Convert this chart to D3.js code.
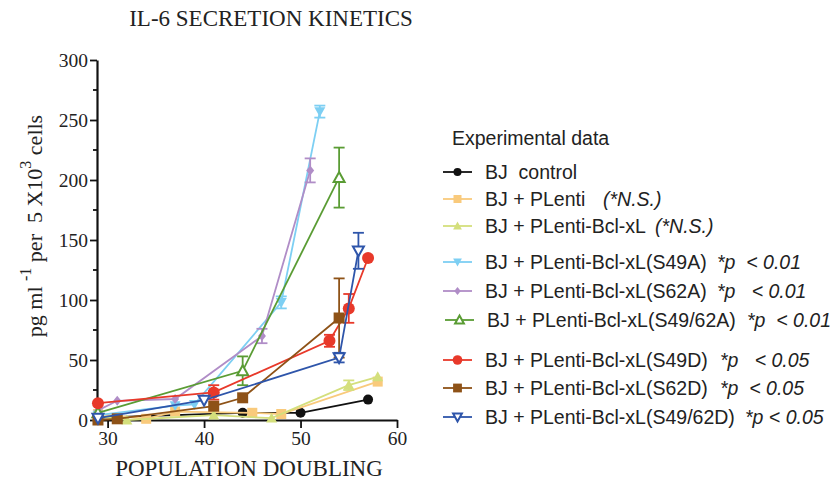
<!DOCTYPE html>
<html><head><meta charset="utf-8">
<script src="https://cdn.jsdelivr.net/npm/d3@7"></script>
<style>
html,body{margin:0;padding:0;background:#fff;}
svg{display:block;}
</style></head>
<body>
<svg id="chart" width="830" height="481"></svg>
<script>
// ---------------- data ----------------
const chartTitle = "IL-6 SECRETION KINETICS";
const xTitle = "POPULATION DOUBLING";
const xTicks = [30, 40, 50, 60];
const yTicks = [0, 50, 100, 150, 200, 250, 300];
const yMinorTicks = [25, 75, 125, 175, 225, 275];

const seriesNames = [
  "BJ  control",
  "BJ + PLenti",
  "BJ + PLenti-Bcl-xL",
  "BJ + PLenti-Bcl-xL(S49A)",
  "BJ + PLenti-Bcl-xL(S62A)",
  "BJ + PLenti-Bcl-xL(S49/62A)",
  "BJ + PLenti-Bcl-xL(S49D)",
  "BJ + PLenti-Bcl-xL(S62D)",
  "BJ + PLenti-Bcl-xL(S49/62D)"
];
const seriesNotes = ["", "(*N.S.)", "(*N.S.)", "*p  < 0.01", "*p   < 0.01", "*p  < 0.01", "*p   < 0.05", "*p  < 0.05", "*p < 0.05"];

const controlX = [29, 44, 50, 57];
const controlY = [2, 6, 6, 17];
const controlErr = [0, 0, 0, 0];

const plentiX = [29, 34, 37, 45, 48, 58];
const plentiY = [5, 1, 7, 6, 5, 32];
const plentiErr = [0, 0, 0, 0, 0, 0];

const bclX = [29, 32, 41, 47, 55, 58];
const bclY = [3, 0, 4, 1.5, 29, 36];
const bclErr = [0, 0, 0, 0, 4, 0];

const s49aX = [29, 37, 39, 48, 52];
const s49aY = [4, 12, 13, 98, 257];
const s49aErr = [0, 0, 0, 5, 5];

const s62aX = [29, 31, 37, 46, 51];
const s62aY = [8, 16, 17.5, 70, 208];
const s62aErr = [0, 0, 0, 6, 10];

const s4962aX = [29, 44, 54];
const s4962aY = [6, 41, 202];
const s4962aErr = [0, 12, 25];

const s49dX = [29, 41, 53, 55, 57];
const s49dY = [14, 23, 66, 93, 135];
const s49dErr = [0, 6, 5, 12, 0];

const s62dX = [29, 31, 41, 44, 54];
const s62dY = [0, 1, 11.5, 18.5, 85];
const s62dErr = [0, 0, 0, 0, 33];

const s4962dX = [29, 40, 54, 56];
const s4962dY = [1.5, 16.5, 52, 141];
const s4962dErr = [0, 0, 4, 15];

const seriesColors = ["#111111", "#F9CA7C", "#D4DF7C", "#7DCFF3", "#B08DC7", "#5A9C34", "#E8392A", "#8E5217", "#2E55AA"];
const seriesSymbols = ["circle", "square", "triangle", "triangleDown", "diamond", "triangleOpen", "circleBig", "squareBig", "triangleDownOpen"];

const seriesData = [
  [controlX, controlY, controlErr],
  [plentiX, plentiY, plentiErr],
  [bclX, bclY, bclErr],
  [s49aX, s49aY, s49aErr],
  [s62aX, s62aY, s62aErr],
  [s4962aX, s4962aY, s4962aErr],
  [s49dX, s49dY, s49dErr],
  [s62dX, s62dY, s62dErr],
  [s4962dX, s4962dY, s4962dErr]
];

// ---------------- layout ----------------
const svg = d3.select("#chart");
const x = d3.scaleLinear().domain([28.9, 60]).range([97, 397]);
const y = d3.scaleLinear().domain([0, 300]).range([420, 60]);
const serif = "'Liberation Serif','Times New Roman',serif";
const sans = "'Liberation Sans',Arial,sans-serif";

// title
svg.append("text").attr("x", 271).attr("y", 26).attr("text-anchor", "middle")
  .style("font-family", serif).style("font-size", "23px").style("fill", "#222")
  .text(chartTitle);

// y axis
const yAxis = svg.append("g").attr("transform", "translate(97,0)")
  .call(d3.axisLeft(y).tickValues(yTicks).tickSize(7).tickSizeOuter(0).tickPadding(2));
yAxis.selectAll(".tick text").style("font-family", serif).style("font-size", "19.5px").style("fill", "#222");
yAxis.select(".domain").attr("stroke", "#111").attr("stroke-width", 2.2);
yAxis.selectAll(".tick line").attr("stroke", "#111").attr("stroke-width", 1.8);
svg.append("g").selectAll("line").data(yMinorTicks).join("line")
  .attr("x1", 97).attr("x2", 93).attr("y1", d => y(d)).attr("y2", d => y(d))
  .attr("stroke", "#111").attr("stroke-width", 1.8);

// x axis
const xAxis = svg.append("g").attr("transform", "translate(0,420)")
  .call(d3.axisBottom(x).tickValues(xTicks).tickSize(8).tickSizeOuter(0).tickPadding(3));
xAxis.selectAll(".tick text").style("font-family", serif).style("font-size", "19.5px").style("fill", "#222");
xAxis.select(".domain").attr("stroke", "#111").attr("stroke-width", 2.2);
xAxis.selectAll(".tick line").attr("stroke", "#111").attr("stroke-width", 1.8);

svg.append("text").attr("x", 249).attr("y", 476).attr("text-anchor", "middle")
  .style("font-family", serif).style("font-size", "23px").style("fill", "#222")
  .text(xTitle);

// y title with superscripts
const yt = svg.append("text").attr("transform", "translate(42,226) rotate(-90)")
  .attr("text-anchor", "middle").attr("xml:space", "preserve").style("white-space", "pre")
  .style("font-family", serif).style("font-size", "22px").style("fill", "#222");
yt.append("tspan").text("pg ml ");
yt.append("tspan").attr("dy", -11).style("font-size", "16px").text("-1");
yt.append("tspan").attr("dy", 11).text(" per  5 X10");
yt.append("tspan").attr("dy", -11).style("font-size", "16px").text("3");
yt.append("tspan").attr("dy", 11).text(" cells");

// ---------------- symbols ----------------
function drawSymbol(g, type, color, cx, cy, s) {
  s = s || 1;
  if (type === "circle") {
    g.append("circle").attr("cx", cx).attr("cy", cy).attr("r", 5 * s).attr("fill", color);
  } else if (type === "circleBig") {
    g.append("circle").attr("cx", cx).attr("cy", cy).attr("r", 6 * s).attr("fill", color);
  } else if (type === "square") {
    const h = 5 * s;
    g.append("rect").attr("x", cx - h).attr("y", cy - h).attr("width", 2 * h).attr("height", 2 * h).attr("fill", color);
  } else if (type === "squareBig") {
    const h = 5.5 * s;
    g.append("rect").attr("x", cx - h).attr("y", cy - h).attr("width", 2 * h).attr("height", 2 * h).attr("fill", color);
  } else if (type === "triangle") {
    const h = 5.5 * s;
    g.append("path").attr("d", `M${cx},${cy - h}L${cx + h},${cy + h * 0.8}L${cx - h},${cy + h * 0.8}Z`).attr("fill", color);
  } else if (type === "triangleDown") {
    const h = 5.5 * s;
    g.append("path").attr("d", `M${cx},${cy + h}L${cx + h},${cy - h * 0.8}L${cx - h},${cy - h * 0.8}Z`).attr("fill", color);
  } else if (type === "diamond") {
    const h = 5 * s;
    g.append("path").attr("d", `M${cx},${cy - h}L${cx + h * 0.8},${cy}L${cx},${cy + h}L${cx - h * 0.8},${cy}Z`).attr("fill", color);
  } else if (type === "triangleOpen") {
    const h = 5.5 * s;
    g.append("path").attr("d", `M${cx},${cy - h}L${cx + h},${cy + h * 0.8}L${cx - h},${cy + h * 0.8}Z`)
      .attr("fill", "#fff").attr("stroke", color).attr("stroke-width", 2);
  } else if (type === "triangleDownOpen") {
    const h = 5.5 * s;
    g.append("path").attr("d", `M${cx},${cy + h}L${cx + h},${cy - h * 0.8}L${cx - h},${cy - h * 0.8}Z`)
      .attr("fill", "#fff").attr("stroke", color).attr("stroke-width", 2);
  }
}

// ---------------- series ----------------
const plot = svg.append("g");
const line = d3.line().x(d => x(d[0])).y(d => y(d[1]));
seriesData.forEach((sd, i) => {
  const pts = sd[0].map((xv, j) => [xv, sd[1][j], sd[2][j]]);
  const g = plot.append("g");
  const c = seriesColors[i];
  g.append("path").datum(pts).attr("d", line).attr("fill", "none").attr("stroke", c).attr("stroke-width", 1.8);
  pts.forEach(p => {
    if (p[2] > 0) {
      const px = x(p[0]);
      g.append("line").attr("x1", px).attr("x2", px).attr("y1", y(p[1] + p[2])).attr("y2", y(p[1] - p[2]))
        .attr("stroke", c).attr("stroke-width", 1.8);
      [p[1] + p[2], p[1] - p[2]].forEach(v => {
        g.append("line").attr("x1", px - 5.5).attr("x2", px + 5.5).attr("y1", y(v)).attr("y2", y(v))
          .attr("stroke", c).attr("stroke-width", 1.8);
      });
    }
  });
  pts.forEach(p => drawSymbol(g, seriesSymbols[i], c, x(p[0]), y(p[1])));
});

// ---------------- legend ----------------
const legendRows = [172, 199, 226, 262, 291, 320, 360, 388, 417];
const legendNoteX = [0, 603, 655, 717, 717, 747, 720, 720, 745];
svg.append("text").attr("x", 452).attr("y", 145)
  .style("font-family", sans).style("font-size", "19.5px").style("fill", "#222")
  .text("Experimental data");
seriesNames.forEach((name, i) => {
  const ly = legendRows[i];
  const off = i === 5 ? 2 : 0;
  const lg = svg.append("g");
  lg.append("line").attr("x1", 443 + off).attr("x2", 472 + off).attr("y1", ly).attr("y2", ly)
    .attr("stroke", seriesColors[i]).attr("stroke-width", 1.8);
  drawSymbol(lg, seriesSymbols[i], seriesColors[i], 457.5 + off, ly, 0.8);
  lg.append("text").attr("x", 485 + off).attr("y", ly + 7)
    .attr("xml:space", "preserve").style("white-space", "pre")
    .style("font-family", sans).style("font-size", "19.5px").style("fill", "#222")
    .text(name);
  if (seriesNotes[i]) {
    lg.append("text").attr("x", legendNoteX[i]).attr("y", ly + 7)
      .attr("xml:space", "preserve").style("white-space", "pre")
      .style("font-family", sans).style("font-size", "19.5px").style("font-style", "italic").style("fill", "#222")
      .text(seriesNotes[i]);
  }
});
</script>
</body></html>
